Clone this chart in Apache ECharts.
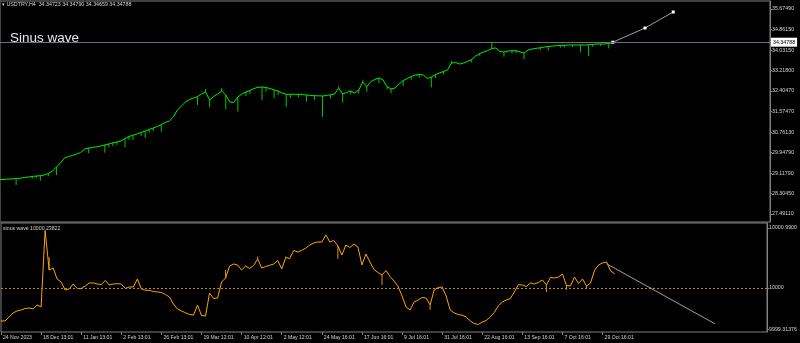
<!DOCTYPE html>
<html><head><meta charset="utf-8">
<script src="https://cdn.jsdelivr.net/npm/echarts@6/dist/echarts.min.js"></script>
<style>html,body{margin:0;padding:0;background:#000;}#c{width:800px;height:343px;}</style>
</head><body><div id="c"></div>
<script>
// ---------- data ----------
const symbolHeader = '\u25BE USDTRY,H4  34.34723 34.34790 34.34659 34.34788';
const overlayTitle = 'Sinus wave';
const waveName = 'sinus wave';
const lastPrice = 34.34788;
const waveZero = 10000;
const waveLast = 10000.23822;

const xTickLabels = ['24 Nov 2023','18 Dec 13:01','11 Jan 13:01','2 Feb 13:01','26 Feb 13:01','19 Mar 12:01','10 Apr 12:01','2 May 12:01','24 May 16:01','17 Jun 16:01','9 Jul 16:01','31 Jul 16:01','22 Aug 16:01','13 Sep 16:01','7 Oct 16:01','29 Oct 16:01'];
const barsPerLabel = 10;
const totalBars = 192;

const priceYLabels = [27.4911, 28.3045, 29.1179, 29.9479, 30.7613, 31.5747, 32.4047, 33.2180, 34.0315, 34.8615, 35.6749];
const waveYLabels = [9999.31376, 10000, 10000.99];
const waveYLabelText = ['9999.31376', '10000', '10000.9900'];

const priceClose = [
28.869,28.869,28.889,28.889,28.909,28.917,28.948,28.968,28.988,29.008,
29.020,29.048,29.108,29.208,29.368,29.527,29.727,29.787,29.827,29.887,
29.946,30.086,30.126,30.146,30.174,30.206,30.246,30.286,30.334,30.366,
30.406,30.505,30.585,30.637,30.685,30.745,30.805,30.865,30.924,30.984,
31.064,31.144,31.204,31.364,31.643,31.803,31.962,32.062,32.122,32.182,
32.282,32.362,32.042,32.182,32.282,32.402,32.242,31.962,31.942,32.162,
32.282,32.362,32.421,32.501,32.549,32.561,32.541,32.501,32.441,32.402,
32.322,32.270,32.270,32.270,32.270,32.262,32.242,32.222,32.214,32.210,
32.202,32.222,32.250,32.282,32.521,32.282,32.342,32.402,32.322,32.441,
32.761,32.573,32.781,32.861,32.920,32.841,32.573,32.481,32.521,32.681,
32.813,32.900,32.980,33.040,33.060,33.040,32.900,32.960,33.060,33.120,
33.180,33.240,33.519,33.539,33.479,33.519,33.579,33.659,33.799,33.899,
33.958,34.018,34.098,34.118,33.978,33.958,33.998,34.010,34.010,33.958,
33.918,34.038,34.078,34.106,34.126,34.158,34.178,34.190,34.210,34.218,
34.226,34.238,34.238,34.238,34.238,34.238,34.246,34.258,34.278,34.278,
34.278,34.298,34.34788
];
// [bar index, wick extreme]
const priceWicks = [
[4,28.649],[8,28.90],[9,28.93],[10,28.821],[12,29.00],[14,29.048],[22,29.915],[26,29.938],[27,30.16],[28,30.20],
[29,30.25],[31,30.154],[32,30.45],[33,30.445],[35,30.60],[36,30.525],[37,30.74],[38,30.80],[40,30.777],[49,31.843],
[51,32.48],[52,31.751],[55,32.52],[56,31.671],[59,31.575],[61,32.20],[62,32.28],[65,32.042],[66,32.38],[68,32.110],
[69,32.25],[71,31.751],[72,32.12],[74,32.14],[76,31.974],[78,32.05],[80,31.375],[82,32.10],[84,32.60],[85,31.934],
[87,32.26],[89,32.30],[90,32.85],[91,32.374],[94,32.709],[96,32.469],[97,32.310],[100,32.601],[102,32.85],[104,32.93],
[107,32.549],[108,32.92],[110,33.06],[112,33.60],[117,33.54],[119,33.80],[122,34.330],[125,33.771],[127,33.90],[128,33.92],
[130,33.667],[134,34.03],[136,34.010],[139,34.13],[140,34.14],[142,34.16],[144,33.970],[146,33.799],[147,34.17],[149,34.20],
[151,34.106]
];
const priceTrend = [[152,34.348],[160,34.916],[167,35.555]];

const waveValues = [
9999.456,9999.456,9999.522,9999.588,9999.621,9999.637,9999.662,9999.670,9999.654,9999.720,
9999.687,10000.949,10000.297,10000.330,10000.149,10000.099,9999.967,9999.984,10000.066,9999.992,
9999.992,10000.033,10000.083,10000.083,10000.066,10000.058,10000.124,10000.050,10000.066,10000.071,
10000.066,9999.992,10000.017,10000.017,10000.149,9999.984,9999.962,9999.962,9999.942,9999.934,
9999.926,9999.893,9999.852,9999.736,9999.654,9999.621,9999.592,9999.563,9999.555,9999.720,
9999.546,9999.538,9999.918,9999.827,9999.835,10000.099,10000.165,10000.363,10000.396,10000.380,
10000.297,10000.363,10000.322,10000.371,10000.479,10000.330,10000.355,10000.375,10000.396,10000.454,
10000.314,10000.503,10000.487,10000.619,10000.594,10000.622,10000.657,10000.710,10000.743,10000.759,
10000.759,10000.875,10000.759,10000.784,10000.693,10000.545,10000.710,10000.668,10000.726,10000.677,
10000.380,10000.561,10000.429,10000.305,10000.256,10000.215,10000.289,10000.190,10000.116,10000.025,
9999.868,9999.687,9999.637,9999.769,9999.802,9999.843,9999.835,9999.720,9999.967,10000.008,
10000.017,9999.868,9999.637,9999.588,9999.563,9999.550,9999.522,9999.456,9999.414,9999.398,
9999.439,9999.464,9999.522,9999.596,9999.703,9999.769,9999.802,9999.827,9999.934,10000.054,
10000.050,10000.025,10000.083,10000.066,10000.091,10000.132,10000.050,10000.173,10000.165,10000.182,
10000.231,10000.041,10000.033,10000.182,10000.074,10000.149,10000.033,10000.083,10000.292,10000.380,
10000.413,10000.429,10000.281,10000.238
];
// [bar index, spike extreme]
const waveWicks = [[12,10000.51],[56,10000.30],[64,10000.52],[71,10000.52],[84,10000.48],[95,10000.05],[107,9999.64],[136,9999.934],[141,9999.97],[146,9999.98]];
const waveTrend = [[151,10000.40],[178,9999.41]];

// ---------- chart ----------
const cats = Array.from({length: totalBars}, (_, i) => String(i));
const isLabelBar = (i) => i % barsPerLabel === 0 && (i / barsPerLabel) < xTickLabels.length;
const priceWickData = priceWicks.map(w => [w[0], priceClose[w[0]], w[1]]);
const waveWickData = waveWicks.map(w => [w[0], waveValues[w[0]], w[1]]);

const FONT = 'Liberation Sans';
const TXT = '#d4d4d4';
const FRAME = '#808080';

function wickRenderer(color) {
  return (params, api) => {
    const a = api.coord([api.value(0), api.value(1)]);
    const b = api.coord([api.value(0), api.value(2)]);
    return {type: 'line', shape: {x1: a[0], y1: a[1], x2: b[0], y2: b[1]}, style: {stroke: color, lineWidth: 1}};
  };
}

const chart = echarts.init(document.getElementById('c'), null, {renderer: 'canvas'});
chart.setOption({
  animation: false,
  backgroundColor: '#000',
  grid: [
    {left: 0, width: 770, top: 1, height: 221, show: true, borderColor: FRAME, borderWidth: 1, backgroundColor: '#000'},
    {left: 0, width: 770, top: 223, height: 109, show: true, borderColor: FRAME, borderWidth: 1, backgroundColor: '#000'}
  ],
  xAxis: [
    {gridIndex: 0, type: 'category', data: cats, boundaryGap: false,
     axisLine: {show: false}, axisTick: {show: false}, axisLabel: {show: false}, splitLine: {show: false}},
    {gridIndex: 1, type: 'category', data: cats, boundaryGap: false,
     axisLine: {show: false},
     axisTick: {show: true, length: 3, interval: (i) => isLabelBar(i), lineStyle: {color: FRAME}},
     axisLabel: {show: true, interval: (i) => isLabelBar(i), formatter: (v, i) => xTickLabels[i / barsPerLabel] || '',
       align: 'left', color: TXT, fontSize: 5.1, fontFamily: FONT, margin: 3, padding: [0, 0, 0, 2]},
     splitLine: {show: false}}
  ],
  yAxis: [
    {gridIndex: 0, type: 'value', position: 'right', min: 27.172, max: 35.9943, scale: true,
     splitLine: {show: false},
     axisLine: {show: true, lineStyle: {color: FRAME}},
     axisTick: {show: true, length: 2, lineStyle: {color: FRAME}, customValues: priceYLabels},
     axisLabel: {customValues: priceYLabels, formatter: (v) => v.toFixed(5), color: TXT, fontSize: 5.3, fontFamily: FONT, margin: 2}},
    {gridIndex: 1, type: 'value', position: 'right', min: 9999.274, max: 10001.0725, scale: true,
     splitLine: {show: false},
     axisLine: {show: true, lineStyle: {color: FRAME}},
     axisTick: {show: true, length: 2, lineStyle: {color: FRAME}, customValues: waveYLabels},
     axisLabel: {customValues: waveYLabels, color: TXT, fontSize: 5.3, fontFamily: FONT, margin: 2,
       formatter: (v) => { let k = 0, d = Infinity; waveYLabels.forEach((w, j) => { if (Math.abs(w - v) < d) { d = Math.abs(w - v); k = j; } }); return waveYLabelText[k]; }}}
  ],
  graphic: [
    {type: 'text', left: 2, top: 2, z: 100, style: {text: symbolHeader, fill: TXT, font: '5.3px "' + FONT + '"'}},
    {type: 'text', left: 10, top: 31, z: 100, style: {text: overlayTitle, fill: '#e8e8e8', font: '13.5px "' + FONT + '"'}},
    {type: 'text', left: 3, top: 226, z: 100, style: {text: waveName + ' ' + waveLast.toFixed(5), fill: TXT, font: '5.2px "' + FONT + '"'}}
  ],
  series: [
    {type: 'line', xAxisIndex: 0, yAxisIndex: 0, data: priceClose, showSymbol: false, symbol: 'none',
     lineStyle: {color: '#00f000', width: 1}, z: 3,
     markLine: {silent: true, symbol: 'none', animation: false,
       lineStyle: {color: '#6a7282', type: 'solid', width: 1},
       label: {show: true, position: 'end', distance: 1, formatter: () => lastPrice.toFixed(5),
         backgroundColor: '#ffffff', color: '#000', fontSize: 5.3, fontFamily: FONT, padding: [2, 2]},
       data: [{yAxis: lastPrice}]}},
    {type: 'custom', xAxisIndex: 0, yAxisIndex: 0, data: priceWickData, z: 2, renderItem: wickRenderer('#00c800')},
    {type: 'line', xAxisIndex: 0, yAxisIndex: 0, data: priceTrend, symbol: 'rect', symbolSize: 3,
     showSymbol: true, showAllSymbol: true,
     lineStyle: {color: '#a0a0a0', width: 1}, itemStyle: {color: '#ffffff'}, z: 4},
    {type: 'line', xAxisIndex: 1, yAxisIndex: 1, data: waveValues, showSymbol: false, symbol: 'none',
     lineStyle: {color: '#ffa500', width: 1}, z: 3,
     markLine: {silent: true, symbol: 'none', animation: false,
       lineStyle: {color: '#c08a10', type: [2, 2], width: 1},
       label: {show: false}, data: [{yAxis: waveZero}]}},
    {type: 'custom', xAxisIndex: 1, yAxisIndex: 1, data: waveWickData, z: 2, renderItem: wickRenderer('#e09400')},
    {type: 'line', xAxisIndex: 1, yAxisIndex: 1, data: waveTrend, showSymbol: false, symbol: 'none',
     lineStyle: {color: '#a0a0a0', width: 1}, z: 4}
  ]
});
</script>
</body></html>
